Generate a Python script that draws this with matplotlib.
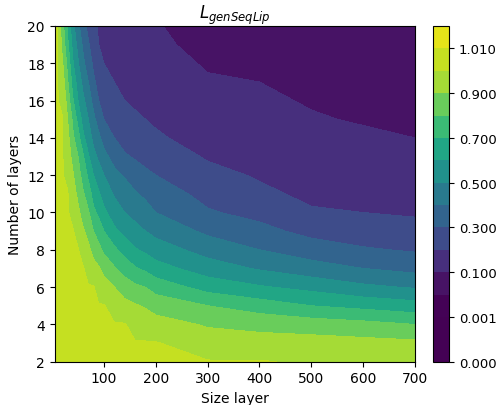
import matplotlib
matplotlib.use("Agg")
import matplotlib.pyplot as plt

# grid of the measurement
size_layer = [5, 10, 20, 30, 40, 50, 60, 70, 80, 90, 100, 120, 140, 160, 180, 200, 300, 400, 500, 600, 700]
num_layers = [2, 3, 4, 5, 6, 7, 8, 9, 10, 11, 12, 13, 14, 15, 16, 17, 18, 19, 20]

# contour levels used for the filled plot
levels = [0, 0.0001, 0.001, 0.01, 0.1, 0.2, 0.3, 0.4, 0.5, 0.6, 0.7, 0.8, 0.9, 1.0, 1.01, 1.1]

# L_genSeqLip, one row per number of layers (2 .. 20), one column per layer size
lip_ratio = [
    [1.005, 1.005, 1.005, 1.005, 1.005, 1.005, 1.005, 1.005, 1.005, 1.005, 1.005, 1.005, 1.005, 1.005, 1.005, 1.005, 1.005, 1.005, 0.99, 0.99, 0.98],
    [1.005, 1.005, 1.005, 1.005, 1.005, 1.005, 1.005, 1.005, 1.005, 1.005, 1.005, 1.005, 1.005, 1.005, 1.005, 1.005, 0.95, 0.94, 0.94, 0.93, 0.92],
    [1.005, 1.005, 1.005, 1.005, 1.005, 1.005, 1.005, 1.005, 1.005, 1.005, 1.005, 1.005, 1.005, 0.97, 0.96, 0.94, 0.89, 0.87, 0.85, 0.83, 0.80],
    [1.005, 1.005, 1.005, 1.005, 1.005, 1.005, 1.005, 1.005, 1.005, 1.005, 1.005, 0.96, 0.93, 0.91, 0.89, 0.86, 0.80, 0.75, 0.70, 0.67, 0.64],
    [1.005, 1.005, 1.005, 1.005, 1.005, 1.005, 1.005, 1.005, 1.005, 0.96, 0.94, 0.90, 0.85, 0.82, 0.80, 0.76, 0.66, 0.61, 0.57, 0.52, 0.49],
    [1.005, 1.005, 1.005, 1.005, 1.005, 1.005, 1.005, 0.97, 0.93, 0.91, 0.87, 0.81, 0.76, 0.71, 0.68, 0.64, 0.55, 0.49, 0.44, 0.40, 0.37],
    [1.005, 1.005, 1.005, 1.005, 1.005, 1.005, 0.96, 0.92, 0.87, 0.83, 0.78, 0.72, 0.66, 0.61, 0.58, 0.55, 0.46, 0.40, 0.35, 0.31, 0.29],
    [1.005, 1.005, 1.005, 1.005, 1.005, 0.97, 0.91, 0.87, 0.80, 0.75, 0.70, 0.62, 0.57, 0.53, 0.50, 0.47, 0.38, 0.33, 0.27, 0.25, 0.23],
    [1.005, 1.005, 1.005, 1.005, 0.98, 0.92, 0.86, 0.81, 0.72, 0.68, 0.62, 0.55, 0.50, 0.47, 0.44, 0.40, 0.31, 0.27, 0.21, 0.20, 0.19],
    [1.005, 1.005, 1.005, 1.005, 0.94, 0.88, 0.81, 0.75, 0.66, 0.61, 0.56, 0.49, 0.45, 0.41, 0.38, 0.35, 0.27, 0.22, 0.18, 0.18, 0.17],
    [1.005, 1.005, 1.005, 0.98, 0.91, 0.84, 0.76, 0.68, 0.60, 0.55, 0.50, 0.43, 0.39, 0.35, 0.32, 0.30, 0.23, 0.19, 0.17, 0.16, 0.15],
    [1.005, 1.005, 1.005, 0.95, 0.87, 0.80, 0.71, 0.61, 0.53, 0.48, 0.43, 0.36, 0.31, 0.29, 0.27, 0.26, 0.19, 0.17, 0.15, 0.14, 0.12],
    [1.005, 1.005, 1.005, 0.93, 0.82, 0.74, 0.62, 0.55, 0.47, 0.42, 0.36, 0.30, 0.27, 0.25, 0.23, 0.21, 0.17, 0.15, 0.13, 0.12, 0.10],
    [1.005, 1.005, 1.005, 0.90, 0.78, 0.67, 0.56, 0.50, 0.42, 0.36, 0.30, 0.26, 0.23, 0.21, 0.20, 0.19, 0.15, 0.13, 0.11, 0.09, 0.07],
    [1.005, 1.005, 0.98, 0.86, 0.71, 0.60, 0.52, 0.45, 0.37, 0.30, 0.27, 0.23, 0.20, 0.19, 0.18, 0.17, 0.13, 0.12, 0.09, 0.07, 0.05],
    [1.005, 1.005, 0.95, 0.81, 0.66, 0.56, 0.47, 0.40, 0.32, 0.26, 0.23, 0.20, 0.18, 0.17, 0.17, 0.16, 0.11, 0.10, 0.06, 0.04, 0.02],
    [1.005, 1.005, 0.91, 0.77, 0.61, 0.51, 0.42, 0.35, 0.28, 0.23, 0.20, 0.18, 0.17, 0.16, 0.15, 0.14, 0.09, 0.07, 0.04, 0.02, 0.02],
    [1.005, 1.005, 0.87, 0.72, 0.57, 0.47, 0.38, 0.31, 0.25, 0.20, 0.18, 0.17, 0.16, 0.15, 0.14, 0.12, 0.07, 0.04, 0.02, 0.02, 0.02],
    [1.005, 1.005, 0.84, 0.68, 0.53, 0.42, 0.34, 0.27, 0.22, 0.19, 0.17, 0.16, 0.14, 0.13, 0.12, 0.11, 0.04, 0.02, 0.02, 0.02, 0.02],
]

fig = plt.figure(figsize=(4.98, 4.06), dpi=100)
ax = fig.add_axes([0.1098, 0.1067, 0.7235, 0.8268])
cax = fig.add_axes([0.870, 0.1067, 0.0321, 0.8268])

cs = ax.contourf(size_layer, num_layers, lip_ratio, levels=levels)
cbar = fig.colorbar(cs, cax=cax)
cbar.ax.tick_params(labelsize=9.5)

ax.set_title(r"$L_{genSeqLip}$")
ax.set_xlabel("Size layer")
ax.set_ylabel("Number of layers")

fig.savefig("out.png", dpi=100)
